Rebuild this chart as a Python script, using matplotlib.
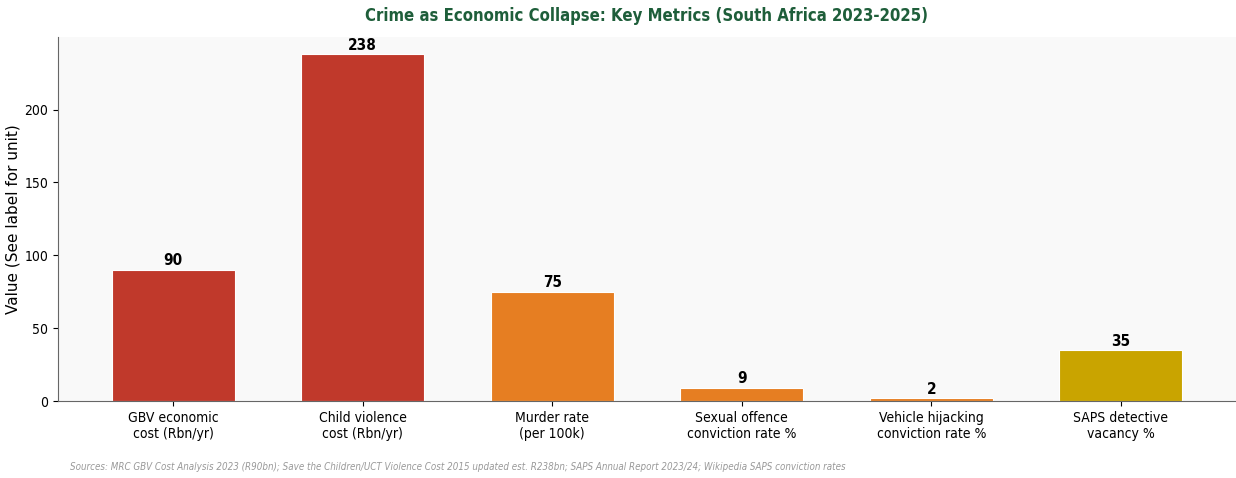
import matplotlib
matplotlib.use("Agg")
import matplotlib.pyplot as plt

plt.rcParams["font.family"] = "DejaVu Sans"
plt.rcParams["font.stretch"] = "condensed"

categories = ["GBV economic\ncost (Rbn/yr)", "Child violence\ncost (Rbn/yr)", "Murder rate\n(per 100k)",
              "Sexual offence\nconviction rate %", "Vehicle hijacking\nconviction rate %", "SAPS detective\nvacancy %"]
values = [90, 238, 75, 9, 2, 35]
colors = ["#c0392b", "#c0392b", "#e67e22", "#e67e22", "#e67e22", "#c9a400"]

fig = plt.figure(figsize=(12.36, 4.78), dpi=100)
ax = fig.add_axes([0.047, 0.161, 0.953, 0.762])
ax.set_facecolor("#f9f9f9")
x = list(range(len(values)))
bars = ax.bar(x, values, width=0.65, color=colors, edgecolor="white", linewidth=0.8)
for xi, v in zip(x, values):
    ax.text(xi, v + 1, str(v), ha="center", va="bottom", fontsize=11, fontweight="bold")
ax.set_xticks(x)
ax.set_xticklabels(categories, fontsize=10)
ax.set_ylim(0, max(values) * 1.05)
ax.set_yticks([0, 50, 100, 150, 200])
ax.tick_params(axis="y", labelsize=10)
ax.set_ylabel("Value (See label for unit)", fontsize=11, fontstretch="normal", labelpad=3)
for s in ["top", "right"]:
    ax.spines[s].set_visible(False)
for s in ["left", "bottom"]:
    ax.spines[s].set_color("#666666")
fig.suptitle("Crime as Economic Collapse: Key Metrics (South Africa 2023-2025)",
             x=0.523, y=0.985, fontsize=12, fontweight="bold", color="#1e5e3a")
fig.text(0.057, 0.017, "Sources: MRC GBV Cost Analysis 2023 (R90bn); Save the Children/UCT Violence Cost 2015 updated est. R238bn; "
         "SAPS Annual Report 2023/24; Wikipedia SAPS conviction rates",
         fontsize=7, style="italic", color="#999999")
fig.savefig("out.png", dpi=100)
